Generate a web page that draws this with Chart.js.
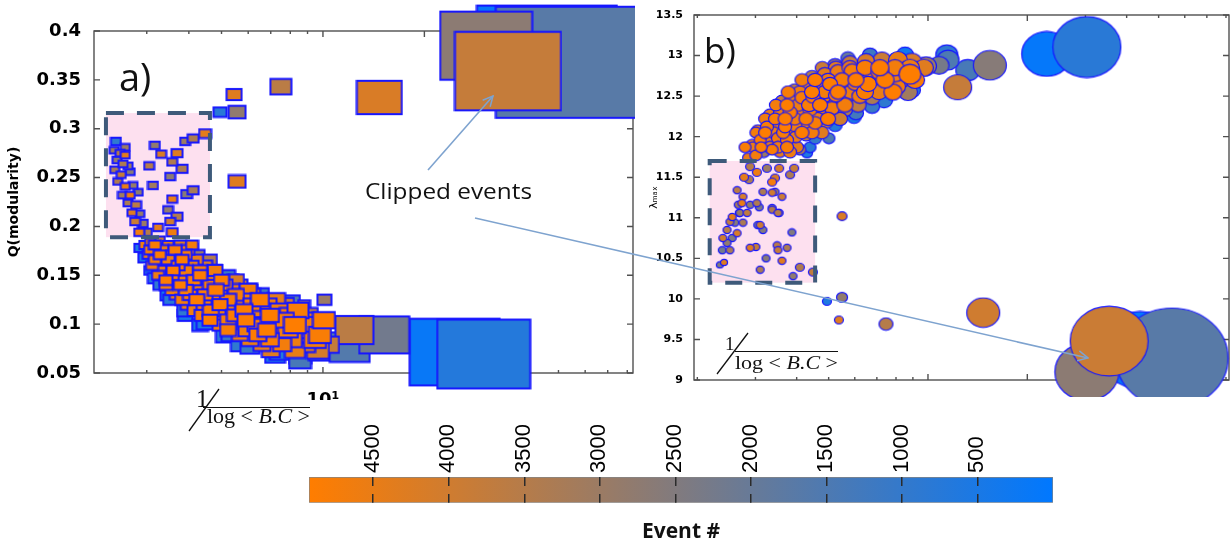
<!DOCTYPE html>
<html>
<head>
<meta charset="utf-8">
<title>Q(modularity) and lambda max versus 1/log&lt;B.C&gt;</title>
<script src="https://cdn.jsdelivr.net/npm/chart.js@4.4.1/dist/chart.umd.min.js"></script>
<style>
  html, body { margin: 0; padding: 0; background: #fff; }
  #fig { position: relative; width: 1231px; height: 548px; overflow: hidden; }
  #fig canvas, #fig svg { position: absolute; }
</style>
</head>
<body>
<div id="fig">
  <canvas id="chartA" width="645" height="400" style="left:0;top:0"></canvas>
  <canvas id="chartB" width="586" height="397" style="left:645px;top:0"></canvas>
  <canvas id="colorbar" width="790" height="148" style="left:290px;top:400px"></canvas>
  <svg width="1231" height="548" viewBox="0 0 1231 548" style="left:0;top:0">
    <defs>
      <marker id="head" markerWidth="12" markerHeight="12" refX="11" refY="6" orient="auto" markerUnits="userSpaceOnUse">
        <path d="M1,1 L11,6 L1,11" fill="none" stroke="#7ea3cf" stroke-width="1.5"/>
      </marker>
    </defs>
    <line x1="428" y1="170" x2="493" y2="96" stroke="#7ea3cf" stroke-width="1.6" marker-end="url(#head)"/>
    <line x1="475" y1="218" x2="1088" y2="358" stroke="#7ea3cf" stroke-width="1.6" marker-end="url(#head)"/>
    <text x="365" y="199" font-family="Open Sans" font-size="21" textLength="167" lengthAdjust="spacingAndGlyphs" fill="#111">Clipped events</text>
    <text x="119" y="91" font-family="Open Sans" font-size="38" fill="#111">a)</text>
    <text x="704" y="63" font-family="Open Sans" font-size="35" fill="#111">b)</text>
    <g font-family="Liberation Serif" fill="#111">
      <text x="196" y="407" font-size="25">1</text>
      <line x1="189" y1="431" x2="219" y2="389" stroke="#111" stroke-width="1.3"/>
      <line x1="203" y1="407.5" x2="310" y2="407.5" stroke="#111" stroke-width="1.2"/>
      <text x="207" y="423" font-size="20" textLength="103" lengthAdjust="spacingAndGlyphs">log &lt; <tspan font-style="italic">B.C</tspan> &gt;</text>
      <text x="725" y="350" font-size="19">1</text>
      <line x1="717" y1="374" x2="748" y2="333" stroke="#111" stroke-width="1.3"/>
      <line x1="735" y1="351.5" x2="838" y2="351.5" stroke="#111" stroke-width="1.2"/>
      <text x="735" y="369" font-size="19" textLength="103" lengthAdjust="spacingAndGlyphs">log &lt; <tspan font-style="italic">B.C</tspan> &gt;</text>
    </g>
  </svg>
</div>
<script>
// ---------- panel a) : Q(modularity) vs 1/log<B.C>, one rectangle per event ----------
const qX = [
  2.43, 2.40, 2.50, 2.59, 2.45, 2.55, 2.64, 2.41, 2.52, 2.68, 2.46, 2.59, 2.73, 2.54, 2.68, 2.83,
  2.64, 2.79, 2.71, 2.86, 2.77, 2.92, 2.85, 3.00, 2.59, 3.17, 3.31, 3.69, 3.57, 3.05, 3.82, 3.52,
  3.13, 3.94, 3.57, 3.47, 3.69, 3.52, 3.57, 4.12, 4.47, 3.90, 3.24, 3.07, 3.28, 4.09, 4.12,
  4.95, 5.56, 5.45, 7.50, 5.56, 14.7, 30.5, 54.4, 46.2, 35.4, 30.0, 24.6, 12.4, 15.2, 12.0, 11.0,
  2.96, 3.17, 3.47, 3.77, 4.09,
  3.03, 3.28, 3.57, 3.90, 4.26,
  3.11, 3.40, 3.72, 4.09, 4.47,
  3.24, 3.57, 3.92, 4.32, 4.75, 5.23,
  3.42, 3.77, 4.17, 4.62, 5.12, 5.67,
  3.67, 4.03, 4.47, 4.95, 5.52, 6.16,
  3.97, 4.44, 4.95, 5.52, 6.16, 6.87, 7.71,
  4.38, 4.88, 5.48, 6.16, 6.96, 7.98, 9.02,
  4.95, 5.60, 6.33, 7.21, 8.26, 9.47,
  5.67, 6.41, 7.35, 8.55, 9.80,
  6.59, 7.56, 8.85, 10.35,
  3.07, 3.52, 4.32, 5.67, 7.45, 9.80, 4.78, 3.64, 6.07, 2.86, 3.28, 3.90, 5.30, 8.55,
  8.79, 10.1, 9.80,
  3.07, 3.33, 3.64, 3.97,
  3.17, 3.47, 3.82, 4.20, 4.62,
  3.28, 3.59, 3.92, 4.32, 4.78,
  3.42, 3.77, 4.14, 4.56, 5.00, 5.52,
  3.57, 3.92, 4.35, 4.81, 5.37, 6.00,
  3.82, 4.22, 4.69, 5.23, 5.83, 6.50, 7.26,
  4.17, 4.65, 5.19, 5.83, 6.55, 7.40, 8.43,
  4.62, 5.23, 5.91, 6.73, 7.66, 8.79, 10.07,
  5.23, 5.95, 6.82, 7.87, 9.15,
  6.07, 6.96, 8.09, 9.47,
  7.00, 8.26, 9.66,
  2.96, 3.17, 3.47, 3.90, 4.47, 5.12, 6.07, 7.21, 8.55,
  4.32, 5.30, 6.50, 7.98
];
const qY = [
  0.287, 0.278, 0.275, 0.273, 0.268, 0.264, 0.262, 0.258, 0.253, 0.256, 0.246, 0.241, 0.242, 0.232, 0.232, 0.235,
  0.224, 0.222, 0.214, 0.213, 0.205, 0.203, 0.194, 0.194, 0.281, 0.283, 0.274, 0.275, 0.266, 0.262, 0.259, 0.251,
  0.242, 0.233, 0.228, 0.217, 0.210, 0.205, 0.194, 0.290, 0.295, 0.287, 0.199, 0.184, 0.186, 0.178, 0.237,
  0.317, 0.317, 0.335, 0.343, 0.246, 0.332, 0.385, 0.368, 0.373, 0.359, 0.0694, 0.0714, 0.094, 0.089, 0.0765, 0.0755,
  0.181, 0.181, 0.181, 0.181, 0.181,
  0.171, 0.171, 0.171, 0.171, 0.171,
  0.160, 0.160, 0.160, 0.160, 0.160,
  0.150, 0.150, 0.150, 0.150, 0.150, 0.150,
  0.140, 0.140, 0.140, 0.140, 0.140, 0.140,
  0.130, 0.130, 0.130, 0.130, 0.130, 0.130,
  0.120, 0.120, 0.120, 0.120, 0.120, 0.120, 0.120,
  0.109, 0.109, 0.109, 0.109, 0.109, 0.109, 0.109,
  0.099, 0.099, 0.099, 0.099, 0.099, 0.099,
  0.089, 0.089, 0.089, 0.089, 0.089,
  0.079, 0.079, 0.079, 0.079,
  0.155, 0.125, 0.099, 0.079, 0.071, 0.071, 0.155, 0.176, 0.135, 0.178, 0.140, 0.109, 0.089, 0.068,
  0.120, 0.125, 0.094,
  0.176, 0.176, 0.176, 0.176,
  0.166, 0.166, 0.166, 0.166, 0.166,
  0.155, 0.155, 0.155, 0.155, 0.155,
  0.145, 0.145, 0.145, 0.145, 0.145, 0.145,
  0.135, 0.135, 0.135, 0.135, 0.135, 0.135,
  0.125, 0.125, 0.125, 0.125, 0.125, 0.125, 0.125,
  0.114, 0.114, 0.114, 0.114, 0.114, 0.114, 0.114,
  0.104, 0.104, 0.104, 0.104, 0.104, 0.104, 0.104,
  0.094, 0.094, 0.094, 0.094, 0.094,
  0.084, 0.084, 0.084, 0.084,
  0.073, 0.073, 0.073,
  0.168, 0.147, 0.130, 0.114, 0.101, 0.088, 0.077, 0.068, 0.063,
  0.164, 0.145, 0.130, 0.122
];
const qEvent = [
  900, 3000, 3500, 4400, 2800, 3300, 3000, 3200, 3800, 2600, 3400, 4500, 2900, 3100, 4600, 2700,
  3300, 3600, 4300, 2900, 3900, 3000, 4700, 3500, 3000, 2800, 4200, 4300, 3400, 3500, 3300, 2700,
  3100, 2600, 4500, 2800, 3400, 4000, 4600, 3300, 4400, 3000, 4400, 4700, 3800, 2900, 3200,
  800, 2800, 4300, 3600, 4300, 4200, 2700, 1700, 150, 3800, 700, 150, 3600, 2200, 1600, 1300,
  4600, 4800, 4500, 4300, 4700,
  4400, 4900, 4600, 4800, 3000,
  4700, 4500, 4900, 4600, 4200,
  4600, 4800, 4500, 4900, 4300, 1200,
  4700, 4900, 4600, 4800, 4700, 3600,
  4500, 4800, 4900, 4600, 4800, 4300,
  4600, 4700, 4900, 4500, 4800, 4600, 3900,
  4800, 4600, 4900, 4700, 4900, 4800, 3500,
  4700, 4500, 4800, 4600, 4900, 4700,
  4600, 4900, 4700, 4500, 4800,
  4400, 4700, 4200, 3800,
  600, 800, 500, 900, 700, 1500, 1000, 700, 1300, 600, 900, 400, 1100, 1000,
  3000, 3000, 2600,
  4700, 4500, 4800, 4600,
  4800, 4600, 4900, 4500, 3400,
  4500, 4900, 4700, 4800, 4600,
  4900, 4600, 4800, 4500, 4900, 4200,
  4600, 4800, 4700, 4900, 4500, 4700,
  4700, 4900, 4600, 4800, 4700, 4900, 4400,
  4600, 4800, 4500, 4900, 4700, 4600, 4800,
  4900, 4700, 4900, 4600, 4800, 4500, 4900,
  4800, 4600, 4900, 4700, 4600,
  4500, 4800, 4600, 4700,
  4300, 4500, 4100,
  500, 700, 400, 900, 600, 800, 1100, 500, 1400,
  1000, 800, 1200, 1600
];
const qSize = [
  10, 9, 9, 9, 9, 9, 9, 9, 9, 9, 9, 9, 9, 9, 9, 9,
  9, 10, 9, 9, 10, 10, 10, 10, 9, 10, 10, 11, 10, 10, 11, 10,
  10, 11, 10, 10, 11, 10, 11, 11, 12, 10, 10, 10, 10, 11, 11,
  13, 17, 15, 21, 17, 45, 92, 150, 140, 106, 93, 90, 38, 50, 40, 30,
  11, 12, 11, 12, 12,
  11, 12, 12, 13, 13,
  12, 12, 13, 13, 14,
  12, 13, 13, 14, 14, 14,
  13, 13, 14, 14, 15, 15,
  13, 14, 15, 15, 16, 16,
  14, 15, 15, 16, 17, 17, 18,
  15, 15, 16, 17, 18, 20, 20,
  15, 16, 17, 18, 22, 22,
  16, 17, 18, 20, 22,
  17, 18, 20, 22,
  12, 14, 16, 18, 20, 22, 14, 12, 16, 11, 13, 15, 17, 22,
  12, 14, 18,
  12, 13, 13, 13,
  12, 13, 13, 14, 14,
  13, 13, 14, 14, 15,
  13, 14, 14, 15, 15, 16,
  14, 14, 15, 16, 16, 17,
  14, 15, 16, 16, 17, 18, 18,
  15, 16, 16, 17, 18, 19, 21,
  15, 16, 17, 18, 20, 21, 22,
  16, 17, 18, 20, 22,
  17, 18, 20, 22,
  18, 20, 22,
  13, 14, 15, 16, 17, 18, 19, 20, 22,
  14, 16, 18, 20
];

// ---------- panel b) : lambda_max vs 1/log<B.C>, one ellipse per event ----------
const lamX = [
  2.85, 3.01, 3.18, 3.37, 3.56, 3.82, 4.09, 4.39,
  2.93, 3.10, 3.30, 3.51, 3.74, 3.98, 4.27, 4.55,
  3.05, 3.25, 3.46, 3.69, 3.95, 4.24, 4.55, 4.91, 5.23,
  3.32, 3.56, 3.82, 4.09, 4.39, 4.71, 5.12, 5.60, 6.05,
  3.61, 3.87, 4.15, 4.48, 4.84, 5.26, 5.72, 6.22, 6.77, 7.36,
  3.95, 4.27, 4.64, 5.05, 5.49, 6.01, 6.58, 7.25, 8.00, 8.70,
  4.45, 4.87, 5.34, 5.89, 6.49, 7.15, 7.94, 8.82,
  5.23, 5.80, 6.49, 7.25, 8.11, 8.94, 9.86,
  8.52, 6.67, 5.72,
  5.01, 4.30, 5.97, 6.77, 8.94,
  11.4, 10.8, 11.5, 13.2, 15.4, 12.3, 22.9, 30.3,
  2.34, 2.41, 2.38, 2.51, 2.46, 2.39, 2.55, 2.46, 2.64, 2.60, 2.75, 2.55, 2.69, 2.83, 2.66, 2.89,
  2.75, 3.03, 2.89, 3.01, 3.10, 3.23, 3.05, 3.16, 3.49, 3.51, 3.74, 3.61, 3.87, 4.09, 3.90, 4.48,
  3.51, 3.44, 3.16, 3.61, 3.37, 3.44, 3.82, 3.93, 3.37, 3.08, 2.64, 2.77, 2.89, 3.03, 3.25, 3.54,
  2.68, 2.51, 3.37, 3.54, 3.10, 2.73, 2.87, 3.37,
  5.49, 4.94, 5.49, 5.37, 7.46, 14.7,
  43.9, 54.9, 30.3, 35.4,
  2.79, 2.95, 3.12, 3.32, 3.51, 3.74, 4.01,
  3.01, 3.21, 3.41, 3.64, 3.87, 4.15, 4.45, 4.77,
  3.21, 3.44, 3.69, 3.95, 4.27, 4.61, 4.98, 5.41,
  3.46, 3.74, 4.04, 4.36, 4.71, 5.12, 5.60, 6.14,
  3.77, 4.09, 4.45, 4.87, 5.34, 5.84, 6.44, 7.10, 7.83,
  4.15, 4.55, 4.98, 5.49, 6.05, 6.67, 7.41, 8.23, 9.14,
  4.78, 5.26, 5.80, 6.44, 7.15, 7.94, 8.82, 9.72
];
const lamY = [
  11.74, 11.77, 11.81, 11.84, 11.81, 11.81, 11.84, 11.87,
  11.90, 11.96, 11.96, 11.98, 11.96, 12.00, 12.02, 11.98,
  12.08, 12.12, 12.13, 12.12, 12.14, 12.16, 12.17, 12.18, 12.14,
  12.27, 12.29, 12.30, 12.32, 12.33, 12.33, 12.35, 12.33, 12.29,
  12.44, 12.45, 12.48, 12.49, 12.50, 12.51, 12.51, 12.50, 12.48, 12.45,
  12.575, 12.61, 12.64, 12.65, 12.66, 12.66, 12.65, 12.64, 12.62, 12.55,
  12.74, 12.77, 12.80, 12.81, 12.81, 12.80, 12.785, 12.77,
  12.88, 12.91, 12.93, 12.945, 12.945, 12.92, 12.87,
  13.01, 13.01, 12.97,
  11.98, 11.80, 12.24, 12.37, 12.575,
  13.01, 12.88, 12.945, 12.82, 12.88, 12.61, 13.02, 13.105,
  10.42, 10.45, 10.60, 10.60, 10.69, 10.75, 10.75, 10.85, 10.81, 10.94, 10.94, 11.01, 11.06, 11.06, 11.16, 11.16,
  11.26, 11.18, 10.63, 10.64, 10.36, 10.50, 10.91, 10.85, 10.66, 10.60, 10.63, 10.47, 10.82, 10.39, 10.28, 10.33,
  11.06, 11.32, 11.32, 11.26, 11.12, 11.49, 11.53, 11.61, 11.31, 11.13, 11.34, 11.50, 11.63, 11.56, 11.61, 11.61,
  11.06, 10.95, 11.10, 11.06, 10.91, 11.18, 11.47, 11.44,
  11.02, 9.97, 10.02, 9.74, 9.69, 9.83,
  9.37, 9.27, 9.10, 9.48,
  11.87, 11.87, 11.87, 11.87, 11.87, 11.87, 11.87,
  12.05, 12.05, 12.05, 12.05, 12.05, 12.05, 12.05, 12.05,
  12.22, 12.22, 12.22, 12.22, 12.22, 12.22, 12.22, 12.22,
  12.39, 12.39, 12.39, 12.39, 12.39, 12.39, 12.39, 12.39,
  12.55, 12.55, 12.55, 12.55, 12.55, 12.55, 12.55, 12.55, 12.55,
  12.70, 12.70, 12.70, 12.70, 12.70, 12.70, 12.70, 12.70, 12.70,
  12.85, 12.85, 12.85, 12.85, 12.85, 12.85, 12.85, 12.85
];
const lamEvent = [
  4500, 4700, 3000, 4800, 4400, 4600, 3200, 800,
  4600, 4900, 4500, 4700, 4800, 4600, 3500, 1000,
  4400, 4800, 4600, 4900, 4700, 4500, 4800, 3800, 700,
  4500, 4700, 4900, 4600, 4800, 4500, 4700, 3400, 1300,
  3800, 4600, 4800, 4900, 4600, 4800, 4500, 4700, 3300, 900,
  3600, 4500, 4700, 4900, 4600, 4800, 4900, 4500, 4700, 3100,
  3400, 4400, 4600, 4800, 4600, 4900, 4700, 4900,
  2900, 3800, 4200, 3900, 4500, 4200, 3000,
  300, 1200, 2000,
  1500, 600, 500, 1100, 700,
  900, 2300, 1500, 1400, 2600, 3800, 100, 800,
  2500, 4300, 2200, 3200, 2800, 4000, 2500, 3500, 4200, 2600, 3300, 4400, 2900, 3700, 3100, 2700,
  4100, 3400, 4300, 3800, 3200, 2600, 2300, 2500, 3600, 3800, 3300, 4300, 2500, 3400, 2800, 3700,
  3500, 3000, 3300, 3900, 2800, 4200, 3300, 3800, 4000, 2400, 3600, 4400, 3500, 4600, 3000, 4100,
  2000, 3700, 3400, 3100, 3900, 4500, 3200, 4700,
  4200, 600, 2800, 4300, 3500, 4000,
  100, 1700, 2700, 3900,
  4800, 4600, 4900, 4500, 4700, 4800, 4400,
  4700, 4900, 4600, 4800, 4500, 4900, 4700, 4300,
  4600, 4800, 4900, 4700, 4800, 4600, 4900, 4000,
  4700, 4900, 4600, 4800, 4900, 4500, 4700, 3700,
  4800, 4600, 4900, 4700, 4900, 4600, 4800, 4500, 4900,
  4700, 4900, 4600, 4800, 4900, 4700, 4900, 4600, 4800,
  3900, 4300, 4600, 4800, 4900, 4700, 4600, 4300
];
const lamSize = [
  11, 12, 12, 12, 12, 13, 12, 12,
  12, 12, 13, 13, 13, 13, 13, 13,
  12, 13, 13, 13, 14, 14, 14, 14, 14,
  13, 13, 14, 14, 14, 14, 15, 15, 15,
  13, 14, 14, 14, 15, 15, 15, 16, 16, 17,
  14, 14, 15, 15, 16, 16, 17, 18, 19, 19,
  14, 15, 16, 16, 17, 18, 20, 22,
  15, 16, 17, 18, 19, 20, 21,
  17, 15, 14,
  12, 11, 14, 15, 17,
  22, 20, 22, 24, 33, 28, 50, 68,
  7, 7, 8, 8, 8, 8, 8, 8, 8, 8, 8, 8, 8, 8, 8, 8,
  8, 8, 8, 8, 8, 8, 8, 8, 8, 8, 8, 8, 8, 9, 8, 9,
  8, 8, 8, 8, 8, 9, 9, 9, 8, 8, 8, 9, 9, 9, 9, 9,
  8, 8, 8, 8, 8, 8, 9, 9,
  10, 9, 11, 9, 14, 33,
  86, 112, 64, 78,
  12, 12, 12, 13, 13, 13, 13,
  12, 13, 13, 13, 14, 14, 14, 14,
  13, 13, 14, 14, 14, 15, 15, 15,
  13, 14, 14, 15, 15, 15, 16, 16,
  14, 14, 15, 15, 16, 16, 17, 17, 18,
  14, 15, 15, 16, 16, 17, 18, 19, 19,
  14, 15, 16, 17, 18, 18, 19, 19
];

// ---------- axes, ticks, highlighted windows, colour bar ----------
const qRangeX = [2.092, 83.2];
const qRangeY = [0.05, 0.4];
const qTicksX = [3, 4, 5, 6, 7, 8, 9, 10, 20, 30, 40, 50, 60, 70, 80];
const qTicksY = [0.05, 0.1, 0.15, 0.2, 0.25, 0.3, 0.35, 0.4];
const qBoxX = [2.27, 4.62];
const qBoxY = [0.189, 0.316];

const lamRangeX = [1.954, 81.7];
const lamRangeY = [9, 13.5];
const lamTicksX = [2, 3, 4, 5, 6, 7, 8, 9, 10, 20, 30, 40, 50, 60, 70, 80];
const lamTicksY = [9, 9.5, 10, 10.5, 11, 11.5, 12, 12.5, 13, 13.5];
const lamBoxX = [2.18, 4.55];
const lamBoxY = [10.2, 11.7];

const majorTicksX = [10, 20];
const eventRange = [0, 4925];
const eventTicks = [500, 1000, 1500, 2000, 2500, 3000, 3500, 4000, 4500];

// colours: low event number -> blue, high -> orange
const lowColor = [0, 120, 255];
const highColor = [255, 125, 0];
const edgeColor = 'rgb(22,22,255)';

function eventColor(ev) {
  const t = (ev - eventRange[0]) / (eventRange[1] - eventRange[0]);
  const c = lowColor.map((v, i) => Math.round(v + (highColor[i] - v) * t));
  return 'rgb(' + c.join(',') + ')';
}

const markerCache = {};
function marker(shape, w, ev, lw) {
  const key = shape + '|' + w + '|' + ev;
  if (markerCache[key]) return markerCache[key];
  const h = w / (shape === 'rect' ? 1.35 : 1.12);
  const c = document.createElement('canvas');
  c.width = Math.ceil(w + lw + 1);
  c.height = Math.ceil(h + lw + 1);
  const g = c.getContext('2d');
  g.fillStyle = eventColor(ev);
  g.strokeStyle = edgeColor;
  g.lineWidth = lw;
  if (shape === 'rect') {
    const x0 = (c.width - w) / 2, y0 = (c.height - h) / 2;
    g.fillRect(x0, y0, w, h);
    g.strokeRect(x0, y0, w, h);
  } else {
    g.beginPath();
    g.ellipse(c.width / 2, c.height / 2, w / 2, h / 2, 0, 0, Math.PI * 2);
    g.fill();
    g.stroke();
  }
  markerCache[key] = c;
  return c;
}

function points(xs, ys, evs, sizes) {
  return xs.map((x, i) => ({x: x, y: ys[i], ev: evs[i], z: sizes[i]}))
    .sort((a, b) => a.ev - b.ev);
}

// frame with inward ticks + highlighted window
const framePlugin = {
  id: 'frame',
  beforeDatasetsDraw(chart, args, opts) {
    const {ctx, chartArea: a, scales: {x, y}} = chart;
    ctx.save();
    const bx0 = x.getPixelForValue(opts.boxX[0]), bx1 = x.getPixelForValue(opts.boxX[1]);
    const by0 = y.getPixelForValue(opts.boxY[1]), by1 = y.getPixelForValue(opts.boxY[0]);
    ctx.fillStyle = '#fde0ef';
    ctx.fillRect(bx0, by0, bx1 - bx0, by1 - by0);

    ctx.strokeStyle = '#505050';
    ctx.lineWidth = 1.4;
    ctx.strokeRect(a.left, a.top, a.right - a.left, a.bottom - a.top);
    ctx.beginPath();
    x.ticks.forEach(t => {
      if (t.value < x.min || t.value > x.max) return;
      const px = x.getPixelForValue(t.value);
      const len = majorTicksX.includes(t.value) ? 6 : 3;
      ctx.moveTo(px, a.bottom); ctx.lineTo(px, a.bottom - len);
      ctx.moveTo(px, a.top); ctx.lineTo(px, a.top + len);
    });
    y.ticks.forEach(t => {
      const py = y.getPixelForValue(t.value);
      ctx.moveTo(a.left, py); ctx.lineTo(a.left + 6, py);
      ctx.moveTo(a.right, py); ctx.lineTo(a.right - 6, py);
    });
    ctx.stroke();
    ctx.restore();
  },
  afterDatasetsDraw(chart, args, opts) {
    const {ctx, scales: {x, y}} = chart;
    const bx0 = x.getPixelForValue(opts.boxX[0]), bx1 = x.getPixelForValue(opts.boxX[1]);
    const by0 = y.getPixelForValue(opts.boxY[1]), by1 = y.getPixelForValue(opts.boxY[0]);
    ctx.save();
    ctx.strokeStyle = '#3e5a7a';
    ctx.lineWidth = 4;
    ctx.setLineDash(opts.dash);
    ctx.strokeRect(bx0, by0, bx1 - bx0, by1 - by0);
    ctx.restore();
  }
};

function fixSize(prop, val) {
  return s => { s[prop] = val; s.paddingLeft = 0; s.paddingRight = 0; s.paddingTop = 0; s.paddingBottom = 0; };
}
function useTicks(values) {
  return s => { s.ticks = values.map(v => ({value: v})); };
}

const tickFontA = {family: 'DejaVu Sans', size: 18, weight: 'bold'};
const tickFontB = {family: 'DejaVu Sans', size: 11, weight: 'bold'};

new Chart(document.getElementById('chartA'), {
  type: 'scatter',
  data: {
    datasets: [{
      data: points(qX, qY, qEvent, qSize),
      pointStyle: c => c.raw ? marker('rect', c.raw.z, c.raw.ev, 2) : 'rect',
      pointRadius: c => c.raw ? c.raw.z / 2 : 3,
      clip: {left: 10, top: 30, right: 2, bottom: 20}
    }]
  },
  options: {
    responsive: false,
    animation: false,
    events: [],
    layout: {autoPadding: false, padding: {left: 0, top: 31, right: 12, bottom: 0}},
    plugins: {
      legend: {display: false},
      tooltip: {enabled: false},
      frame: {boxX: qBoxX, boxY: qBoxY, dash: [18, 13]}
    },
    scales: {
      x: {
        type: 'logarithmic', min: qRangeX[0], max: qRangeX[1],
        afterBuildTicks: useTicks(qTicksX),
        afterFit: fixSize('height', 27),
        grid: {display: false}, border: {display: false},
        ticks: {autoSkip: false, maxRotation: 0, padding: 9, color: '#000', font: {family: 'DejaVu Sans', size: 18, weight: 'bold'},
                callback: v => v === 10 ? '10¹' : ''}
      },
      y: {
        min: qRangeY[0], max: qRangeY[1],
        afterBuildTicks: useTicks(qTicksY),
        afterFit: fixSize('width', 94),
        grid: {display: false}, border: {display: false},
        ticks: {padding: 5, color: '#000', font: tickFontA, callback: v => String(+v.toFixed(2))},
        title: {display: true, text: 'Q(modularity)', color: '#000', padding: {top: 6, bottom: 0},
                font: {family: 'DejaVu Sans', size: 14, weight: 'bold'}}
      }
    }
  },
  plugins: [framePlugin]
});

new Chart(document.getElementById('chartB'), {
  type: 'scatter',
  data: {
    datasets: [{
      data: points(lamX, lamY, lamEvent, lamSize),
      pointStyle: c => c.raw ? marker('ellipse', c.raw.z, c.raw.ev, 1.2) : 'circle',
      pointRadius: c => c.raw ? c.raw.z / 2 : 3,
      clip: {left: 10, top: 15, right: 2, bottom: 20}
    }]
  },
  options: {
    responsive: false,
    animation: false,
    events: [],
    layout: {autoPadding: false, padding: {left: 0, top: 15, right: 2, bottom: 0}},
    plugins: {
      legend: {display: false},
      tooltip: {enabled: false},
      frame: {boxX: lamBoxX, boxY: lamBoxY, dash: [17, 13]}
    },
    scales: {
      x: {
        type: 'logarithmic', min: lamRangeX[0], max: lamRangeX[1],
        afterBuildTicks: useTicks(lamTicksX),
        afterFit: fixSize('height', 17),
        grid: {display: false}, border: {display: false},
        ticks: {autoSkip: false, maxRotation: 0, padding: 8, color: '#000', font: tickFontB,
                callback: v => v === 10 ? '10¹' : ''}
      },
      y: {
        min: lamRangeY[0], max: lamRangeY[1],
        afterBuildTicks: useTicks(lamTicksY),
        afterFit: fixSize('width', 49),
        grid: {display: false}, border: {display: false},
        ticks: {padding: 3, color: '#000', font: tickFontB, callback: v => String(v)},
        title: {display: true, text: 'λₘₐₓ', color: '#000', padding: {top: 3, bottom: 0},
                font: {family: 'DejaVu Sans', size: 11}}
      }
    }
  },
  plugins: [framePlugin]
});

new Chart(document.getElementById('colorbar'), {
  type: 'bar',
  data: {
    labels: [''],
    datasets: [{
      data: [[eventRange[0], eventRange[1]]],
      backgroundColor: c => {
        const ch = c.chart;
        if (!ch.chartArea) return eventColor(eventRange[0]);
        const xs = ch.scales.x;
        const g = ch.ctx.createLinearGradient(xs.getPixelForValue(eventRange[0]), 0, xs.getPixelForValue(eventRange[1]), 0);
        g.addColorStop(0, eventColor(eventRange[0]));
        g.addColorStop(1, eventColor(eventRange[1]));
        return g;
      },
      borderColor: '#858585',
      borderWidth: 1,
      borderSkipped: false,
      barPercentage: 1,
      categoryPercentage: 1
    }]
  },
  options: {
    indexAxis: 'y',
    responsive: false,
    animation: false,
    events: [],
    layout: {autoPadding: false, padding: {left: 19, right: 27, top: 0, bottom: 0}},
    plugins: {
      legend: {display: false},
      tooltip: {enabled: false},
      title: {display: true, position: 'bottom', text: 'Event #', color: '#111',
              padding: {top: 17, bottom: 3}, font: {family: 'Open Sans', size: 21, weight: 'bold'}}
    },
    scales: {
      x: {
        position: 'top', reverse: true, min: eventRange[0], max: eventRange[1],
        afterBuildTicks: useTicks(eventTicks),
        afterFit: fixSize('height', 77),
        grid: {display: true, drawOnChartArea: true, drawTicks: false, color: '#2b2b2b', lineWidth: 1.5, z: 1},
        border: {display: false, dash: [9, 8]},
        ticks: {autoSkip: false, minRotation: 90, maxRotation: 90, padding: 4, labelOffset: 26, color: '#000',
                font: {family: 'Liberation Sans', size: 22}, callback: v => String(v)}
      },
      y: {display: false}
    }
  }
});
</script>
</body>
</html>
